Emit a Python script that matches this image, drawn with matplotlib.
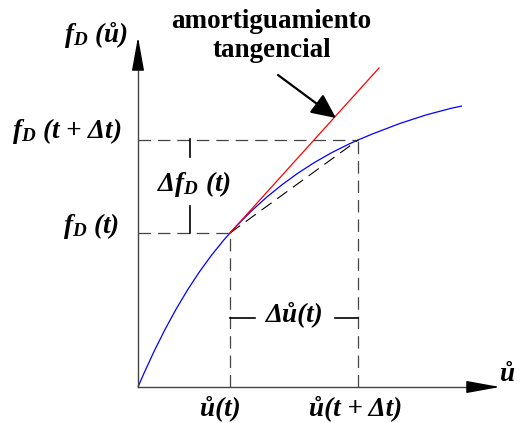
import matplotlib
matplotlib.use("Agg")
import matplotlib.pyplot as plt
from matplotlib.path import Path
from matplotlib.patches import PathPatch

# Fonts: Times-like bold italic, also inside mathtext for the subscripts.
plt.rcParams["mathtext.fontset"] = "custom"
plt.rcParams["mathtext.it"] = "Liberation Serif:italic:bold"
plt.rcParams["mathtext.rm"] = "Liberation Serif:italic:bold"
plt.rcParams["mathtext.bf"] = "Liberation Serif:italic:bold"
plt.rcParams["lines.scale_dashes"] = False

# Damping force curve f_D(u): knots and control points (quadratic pieces),
# read off the picture.
u_curve = [0.0, 4.2, 9.2, 14.8, 22.0, 27.8, 32.4]
f_curve = [0.0, 9.9, 15.4, 21.6, 24.7, 27.2, 28.1]

# The two states, t and t + dt.
u_t, f_t = 9.2, 15.4
u_dt, f_dt = 22.0, 24.7

# Tangent line end, axis ends.
u_tan_end, f_tan_end = 24.1, 31.9
u_axis_end = 36.2
f_axis_end = 35.0

# Text labels.
lbl_fd = r"$f_D$ (ů)"
lbl_fd_t = r"$f_D$ (t)"
lbl_fd_dt = r"$f_D$ (t + Δt)"
lbl_dfd = r"Δ$f_D$ (t)"
lbl_du = "Δů(t)"
lbl_u_t = "ů(t)"
lbl_u_dt = "ů(t + Δt)"
lbl_u = "ů"
lbl_note = "amortiguamiento\ntangencial"

fig = plt.figure(figsize=(5.2, 4.23), dpi=100)
ax = fig.add_axes([0, 0, 1, 1])
ax.set_xlim(-13.8, 38.2)
ax.set_ylim(-3.6, 38.7)
ax.axis("off")

axis_col = "#444444"
dash_col = "#444444"

# Axes with arrow heads.
ax.plot([0, u_axis_end - 3.0], [0, 0], color=axis_col, lw=1.0)
ax.plot([0, 0], [0, f_axis_end - 3.0], color=axis_col, lw=1.0)
head = dict(arrowstyle="-|>,head_length=2.1,head_width=0.38",
            color="black", lw=1.0, shrinkA=0, shrinkB=0)
ax.annotate("", xy=(u_axis_end, 0), xytext=(u_axis_end - 3.1, 0),
            arrowprops=head)
ax.annotate("", xy=(0, f_axis_end), xytext=(0, f_axis_end - 3.1),
            arrowprops=head)

# Dashed guide lines.
dash = dict(color=dash_col, lw=0.9, dashes=(9, 5))
ax.plot([0, u_dt], [f_dt, f_dt], **dash)
ax.plot([0, u_t], [f_t, f_t], **dash)
ax.plot([u_t, u_t], [0, f_t], **dash)
ax.plot([u_dt, u_dt], [0, f_dt], **dash)
ax.plot([u_t, u_dt], [f_t, f_dt], color="black", lw=0.8, dashes=(9, 5))

# Curve and tangent.
codes = [Path.MOVETO] + [Path.CURVE3] * (len(u_curve) - 1)
curve = Path(list(zip(u_curve, f_curve)), codes)
ax.add_patch(PathPatch(curve, facecolor="none", edgecolor="#0000ff", lw=0.9))
ax.plot([u_t, u_tan_end], [f_t, f_tan_end], color="#ff0000", lw=0.9)

# Brackets for the increments.
ax.plot([5.2, 5.2], [24.8, 23.0], color="black", lw=1.2)
ax.plot([5.2, 5.2], [18.1, 15.4], color="black", lw=1.2)
ax.plot([u_t, 11.7], [6.9, 6.9], color="black", lw=1.2)
ax.plot([19.7, u_dt], [6.9, 6.9], color="black", lw=1.2)

txt = dict(family="Liberation Serif", style="italic", weight="bold",
           fontsize=19.5, color="black")
ax.text(-1.0, 35.3, lbl_fd, ha="right", va="center", **txt)
ax.text(-1.6, 25.6, lbl_fd_dt, ha="right", va="center", **txt)
ax.text(-1.9, 16.1, lbl_fd_t, ha="right", va="center", **txt)
ax.text(5.6, 20.3, lbl_dfd, ha="center", va="center", **txt)
ax.text(15.7, 7.3, lbl_du, ha="center", va="center", **txt)
ax.text(8.2, -2.1, lbl_u_t, ha="center", va="center", **txt)
ax.text(21.8, -2.1, lbl_u_dt, ha="center", va="center", **txt)
ax.text(37.0, 1.3, lbl_u, ha="center", va="center", **txt)

# Annotation for the tangent damping.
ax.text(13.35, 35.1, lbl_note, ha="center", va="center",
        family="Liberation Serif", weight="bold", fontsize=19.5,
        linespacing=1.25)
ax.annotate("", xy=(19.8, 26.9), xytext=(14.0, 31.2),
            arrowprops=dict(arrowstyle="-|>,head_length=1.5,head_width=0.7",
                            color="black", lw=1.6, shrinkA=0, shrinkB=0))

fig.savefig("out.png", dpi=100)
